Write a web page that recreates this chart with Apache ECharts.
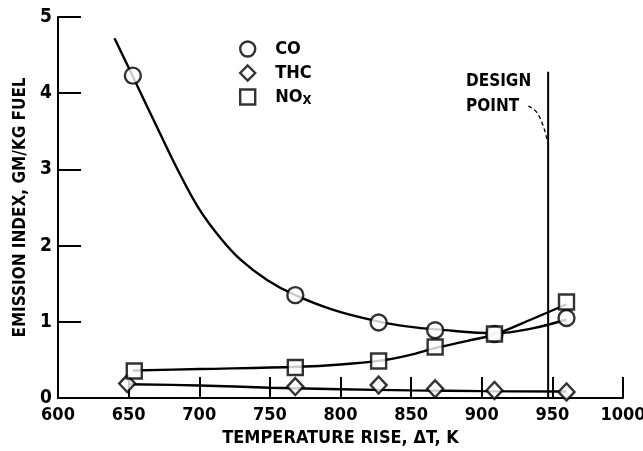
<!DOCTYPE html>
<html>
<head>
<meta charset="utf-8">
<script src="https://cdn.jsdelivr.net/npm/echarts@6/dist/echarts.min.js"></script>
<style>
html,body{margin:0;padding:0;background:#fff;}
#chart{width:643px;height:451px;}
</style>
</head>
<body>
<div id="chart"></div>
<script>
// Measured points (temperature rise K, emission index g/kg fuel)
var coX  = [653, 768, 827, 867, 909, 960];
var coY  = [4.23, 1.35, 0.99, 0.89, 0.84, 1.05];
var thcX = [649, 768, 827, 867, 909, 960];
var thcY = [0.19, 0.15, 0.17, 0.12, 0.10, 0.08];
var noxX = [654, 768, 827, 867, 909, 960];
var noxY = [0.355, 0.40, 0.485, 0.67, 0.84, 1.26];

// Faired curves
var coCurveX  = [640, 653, 672, 686, 700, 715, 729, 748, 768, 796, 828, 847, 868, 910, 935, 960];
var coCurveY  = [4.72, 4.22, 3.48, 2.95, 2.48, 2.10, 1.82, 1.55, 1.35, 1.15, 1.0, 0.94, 0.9, 0.85, 0.91, 1.03];
var noxCurveX = [653, 700, 770, 800, 828, 848, 868, 890, 910, 935, 960];
var noxCurveY = [0.36, 0.38, 0.41, 0.44, 0.49, 0.56, 0.66, 0.75, 0.84, 1.03, 1.23];
var thcCurveX = [650, 700, 750, 800, 850, 900, 960];
var thcCurveY = [0.18, 0.165, 0.135, 0.115, 0.10, 0.09, 0.085];

// Design point line and leader
var designX = 947;
var designTop = 4.28;
var leaderX = [933, 940, 946];
var leaderY = [3.83, 3.72, 3.40];

// Axis ticks
var xTicks = [600, 650, 700, 750, 800, 850, 900, 950, 1000];
var yTicks = [0, 1, 2, 3, 4, 5];

function zip(a, b) { return a.map(function (v, i) { return [v, b[i]]; }); }

var FONT = "'DejaVu Sans Condensed', 'DejaVu Sans', sans-serif";

var chart = echarts.init(document.getElementById('chart'), null, {renderer: 'canvas'});
var markerStyle = {color: '#fff', borderColor: '#000', borderWidth: 2.4};
var curveStyle = {color: '#000', width: 2.4};

chart.setOption({
  animation: false,
  backgroundColor: '#fff',
  grid: {left: 58, right: 20, top: 17, bottom: 53, outerBoundsMode: 'none', containLabel: false},
  legend: {
    orient: 'vertical', left: 234, top: 35, itemWidth: 15, itemHeight: 15, itemGap: 6,
    data: ['CO', 'THC', 'NOx'],
    itemStyle: {borderWidth: 2.4, borderColor: '#000', color: '#fff'},
    textStyle: {
      fontFamily: FONT, fontWeight: 'bold', fontSize: 18, color: '#000', padding: [0, 0, 0, 15],
      rich: {sub: {fontFamily: FONT, fontWeight: 'bold', fontSize: 13, color: '#000', verticalAlign: 'bottom', padding: [8, 0, 0, 0]}}
    },
    formatter: function (n) { return n === 'NOx' ? 'NO{sub|X}' : n; }
  },
  xAxis: {
    type: 'value', min: xTicks[0], max: xTicks[xTicks.length - 1], interval: 50,
    name: 'TEMPERATURE RISE, \u0394T, K', nameLocation: 'middle', nameGap: 31,
    nameTextStyle: {fontFamily: FONT, fontWeight: 'bold', fontSize: 18, color: '#000'},
    axisLine: {lineStyle: {color: '#000', width: 2}},
    axisTick: {inside: true, length: 21, lineStyle: {color: '#000', width: 2}},
    axisLabel: {fontFamily: FONT, fontWeight: 'bold', fontSize: 18, color: '#000', margin: 8,
      formatter: function (v) { return String(v); }},
    splitLine: {show: false}
  },
  yAxis: {
    type: 'value', min: yTicks[0], max: yTicks[yTicks.length - 1], interval: 1,
    name: 'EMISSION INDEX, GM/KG FUEL', nameLocation: 'middle', nameGap: 28, nameRotate: 90,
    nameTextStyle: {fontFamily: FONT, fontWeight: 'bold', fontSize: 17, color: '#000'},
    axisLine: {show: true, lineStyle: {color: '#000', width: 2}},
    axisTick: {show: true, inside: true, length: 23, lineStyle: {color: '#000', width: 2}},
    axisLabel: {fontFamily: FONT, fontWeight: 'bold', fontSize: 19, color: '#000', margin: 6},
    splitLine: {show: false}
  },
  graphic: [
    {type: 'text', left: 466, top: 73, style: {text: 'DESIGN', fontFamily: FONT, fontWeight: 'bold', fontSize: 17, fill: '#000'}},
    {type: 'text', left: 466, top: 98, style: {text: 'POINT', fontFamily: FONT, fontWeight: 'bold', fontSize: 17, fill: '#000'}}
  ],
  series: [
    {type: 'line', name: 'coCurve', data: zip(coCurveX, coCurveY), smooth: 0.4, symbol: 'none', lineStyle: curveStyle, silent: true, z: 2},
    {type: 'line', name: 'noxCurve', data: zip(noxCurveX, noxCurveY), smooth: 0.35, symbol: 'none', lineStyle: curveStyle, silent: true, z: 2},
    {type: 'line', name: 'thcCurve', data: zip(thcCurveX, thcCurveY), smooth: 0.35, symbol: 'none', lineStyle: curveStyle, silent: true, z: 2},
    {type: 'line', name: 'design', data: [[designX, 0], [designX, designTop]], symbol: 'none', lineStyle: {color: '#000', width: 2}, silent: true, z: 2},
    {type: 'line', name: 'leader', data: zip(leaderX, leaderY), smooth: 0.5, symbol: 'none', lineStyle: {color: '#000', width: 1.3, type: [4, 3]}, silent: true, z: 2},
    {type: 'scatter', name: 'CO', data: zip(coX, coY), symbol: 'circle', symbolSize: 16, itemStyle: markerStyle, z: 5},
    {type: 'scatter', name: 'THC', data: zip(thcX, thcY), symbol: 'diamond', symbolSize: [16, 17], itemStyle: markerStyle, z: 5},
    {type: 'scatter', name: 'NOx', data: zip(noxX, noxY), symbol: 'rect', symbolSize: 15, itemStyle: markerStyle, z: 5}
  ]
});
</script>
</body>
</html>
